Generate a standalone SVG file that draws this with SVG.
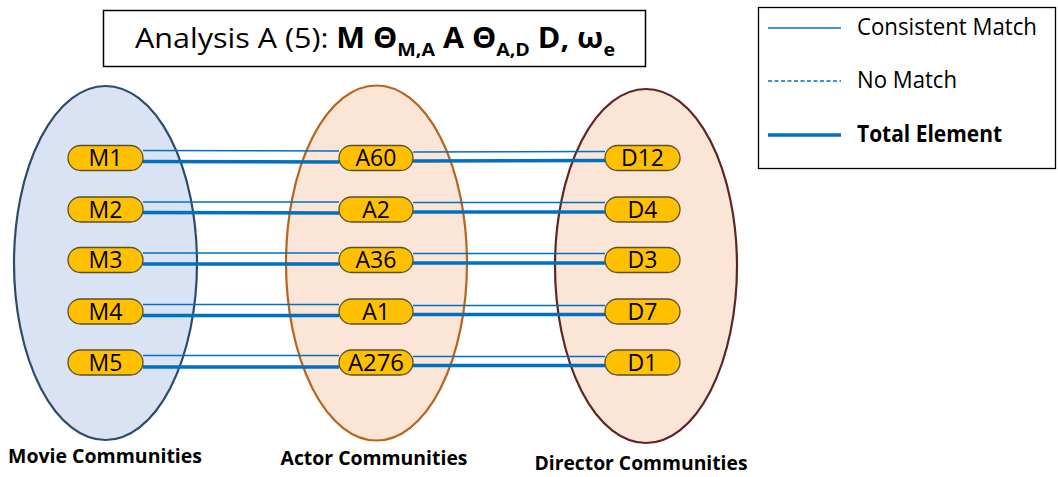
<svg xmlns="http://www.w3.org/2000/svg" width="1058" height="477" viewBox="0 0 1058 477">
<style>
.pill{fill:#FFC000;stroke:#5a5030;stroke-width:1.3}
.nt{font-family:"Open Sans","Liberation Sans",sans-serif;font-size:23px;fill:#000;text-anchor:middle}
.thin{stroke:#0070C0;stroke-width:1.6;fill:none}
.thick{stroke:#0070C0;stroke-width:3.6;fill:none}
.lbl{font-family:"Open Sans","Liberation Sans",sans-serif;font-weight:bold;font-size:19px;fill:#000;text-anchor:middle}
.lg{font-family:"Open Sans","Liberation Sans",sans-serif;font-size:23px;fill:#000}
</style>
<rect width="1058" height="477" fill="#fff"/>
<g id="ellipses">
<ellipse id="movie-group" cx="105.5" cy="263" rx="91.5" ry="177" fill="#DAE3F3" stroke="#2E4A6B" stroke-width="2.2"/>
<ellipse id="actor-group" cx="376.5" cy="263" rx="90.5" ry="177.5" fill="#FBE5D6" stroke="#B5651D" stroke-width="2.2"/>
<ellipse id="director-group" cx="646" cy="266" rx="91" ry="177" fill="#FBE5D6" stroke="#5E2525" stroke-width="2.2"/>
</g>
<g id="title">
<rect x="103.5" y="10.5" width="542" height="56" fill="#fff" stroke="#000" stroke-width="1.5"/>
<text x="375" y="48" text-anchor="middle" font-family="Open Sans, Liberation Sans, sans-serif" font-size="28" fill="#000" textLength="480" lengthAdjust="spacingAndGlyphs">Analysis A (5): <tspan font-weight="bold">M Θ<tspan font-size="18" dy="8">M,A</tspan><tspan dy="-8"> A Θ</tspan><tspan font-size="18" dy="8">A,D</tspan><tspan dy="-8"> D, ω</tspan><tspan font-size="18" dy="8">e</tspan></tspan></text>
</g>
<g id="legend">
<rect x="758.5" y="7.5" width="297" height="161" fill="#fff" stroke="#000" stroke-width="1.3"/>
<line class="thin" x1="768" y1="28" x2="841" y2="28"/>
<line class="thin" x1="768" y1="81" x2="841" y2="81" stroke-dasharray="4,2.5"/>
<line class="thick" x1="768" y1="135" x2="841" y2="135"/>
<text class="lg" x="857" y="35" textLength="180" lengthAdjust="spacingAndGlyphs">Consistent Match</text>
<text class="lg" x="857" y="88" textLength="100" lengthAdjust="spacingAndGlyphs">No Match</text>
<text class="lg" x="857" y="142" font-weight="bold" textLength="145" lengthAdjust="spacingAndGlyphs">Total Element</text>
</g>
<g id="connectors">
<line class="thin" x1="143" y1="150.5" x2="339" y2="151"/>
<line class="thick" x1="143" y1="161.5" x2="339" y2="162"/>
<line class="thin" x1="413" y1="152" x2="605" y2="151.5"/>
<line class="thick" x1="413" y1="161" x2="605" y2="160.5"/>
<line class="thin" x1="143" y1="202" x2="339" y2="202"/>
<line class="thick" x1="143" y1="212.5" x2="339" y2="213"/>
<line class="thin" x1="413" y1="202.5" x2="605" y2="202.5"/>
<line class="thick" x1="413" y1="212" x2="605" y2="212"/>
<line class="thin" x1="143" y1="253" x2="339" y2="253"/>
<line class="thick" x1="143" y1="264" x2="339" y2="264"/>
<line class="thin" x1="413" y1="253.5" x2="605" y2="253.5"/>
<line class="thick" x1="413" y1="263" x2="605" y2="263"/>
<line class="thin" x1="143" y1="304.5" x2="339" y2="304.5"/>
<line class="thick" x1="143" y1="315.5" x2="339" y2="315.5"/>
<line class="thin" x1="413" y1="305.5" x2="605" y2="305.5"/>
<line class="thick" x1="413" y1="314.5" x2="605" y2="314.5"/>
<line class="thin" x1="143" y1="355.5" x2="339" y2="355.5"/>
<line class="thick" x1="143" y1="367" x2="339" y2="367"/>
<line class="thin" x1="413" y1="356.5" x2="605" y2="356.5"/>
<line class="thick" x1="413" y1="365.5" x2="605" y2="365.5"/>
</g>
<g id="M1"><rect class="pill" x="68" y="145.5" width="75" height="25" rx="12.5"/><text class="nt" x="105.5" y="166">M1</text></g>
<g id="M2"><rect class="pill" x="68" y="197" width="75" height="25" rx="12.5"/><text class="nt" x="105.5" y="217.5">M2</text></g>
<g id="M3"><rect class="pill" x="68" y="247.5" width="75" height="25" rx="12.5"/><text class="nt" x="105.5" y="268">M3</text></g>
<g id="M4"><rect class="pill" x="68" y="299" width="75" height="25" rx="12.5"/><text class="nt" x="105.5" y="319.5">M4</text></g>
<g id="M5"><rect class="pill" x="68" y="350" width="75" height="25" rx="12.5"/><text class="nt" x="105.5" y="370.5">M5</text></g>
<g id="A60"><rect class="pill" x="339" y="145.5" width="74" height="25" rx="12.5"/><text class="nt" x="376" y="166">A60</text></g>
<g id="A2"><rect class="pill" x="339" y="197" width="74" height="25" rx="12.5"/><text class="nt" x="376" y="217.5">A2</text></g>
<g id="A36"><rect class="pill" x="339" y="247.5" width="74" height="25" rx="12.5"/><text class="nt" x="376" y="268">A36</text></g>
<g id="A1"><rect class="pill" x="339" y="299" width="74" height="25" rx="12.5"/><text class="nt" x="376" y="319.5">A1</text></g>
<g id="A276"><rect class="pill" x="339" y="350" width="74" height="25" rx="12.5"/><text class="nt" x="376" y="370.5" textLength="56" lengthAdjust="spacingAndGlyphs">A276</text></g>
<g id="D12"><rect class="pill" x="605" y="145.5" width="75" height="25" rx="12.5"/><text class="nt" x="642.5" y="166">D12</text></g>
<g id="D4"><rect class="pill" x="605" y="197" width="75" height="25" rx="12.5"/><text class="nt" x="642.5" y="217.5">D4</text></g>
<g id="D3"><rect class="pill" x="605" y="247.5" width="75" height="25" rx="12.5"/><text class="nt" x="642.5" y="268">D3</text></g>
<g id="D7"><rect class="pill" x="605" y="299" width="75" height="25" rx="12.5"/><text class="nt" x="642.5" y="319.5">D7</text></g>
<g id="D1"><rect class="pill" x="605" y="350" width="75" height="25" rx="12.5"/><text class="nt" x="642.5" y="370.5">D1</text></g>
<g id="labels">
<text class="lbl" x="105" y="463" textLength="194" lengthAdjust="spacingAndGlyphs">Movie Communities</text>
<text class="lbl" x="374" y="465" textLength="187" lengthAdjust="spacingAndGlyphs">Actor Communities</text>
<text class="lbl" x="641" y="470" textLength="213" lengthAdjust="spacingAndGlyphs">Director Communities</text>
</g>
</svg>
